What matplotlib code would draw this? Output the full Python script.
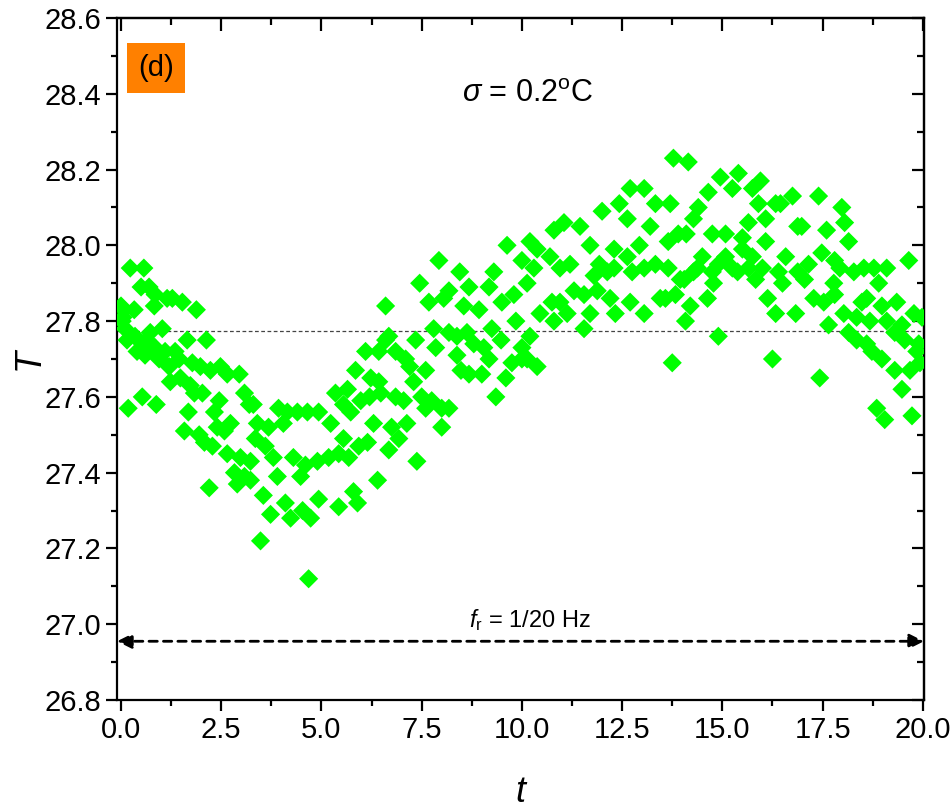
import matplotlib.pyplot as plt
import numpy as np
from matplotlib.ticker import MultipleLocator, FormatStrFormatter

# t (s) and T (degC)
t = [0.23, 0.57, 0.50, 0.70, 0.85, 0.83, 1.15, 1.28, 1.53, 1.88, 0.07, 0.33, 0.03, 0.10,
     0.35, 0.53, 0.60, 0.73, 1.03, 0.85, 1.10, 1.35, 1.45, 1.65, 2.13, 1.78, 1.98, 2.23,
     2.48, 2.65, 2.95, 1.23, 1.48, 1.73, 1.83, 2.03, 2.45, 2.33, 1.68, 3.08, 3.20, 0.18,
     0.53, 0.88, 1.58, 1.95, 2.08, 2.28, 2.40, 2.73, 2.58, 2.65, 2.98, 2.83, 3.08, 2.90,
     2.20, 0.00, 0.05, 0.15, 0.40, 0.65, 0.95, 1.20,
     3.30, 3.93, 4.15, 4.40, 4.65, 4.93, 5.23, 3.40, 3.68, 4.05, 3.35, 3.60, 3.80, 3.23,
     4.30, 4.60, 4.90, 5.18, 5.43, 5.68, 5.93, 6.15, 5.55, 5.73, 6.30, 5.35, 5.65, 5.98,
     5.85, 6.23, 6.43, 6.10, 6.43, 6.60, 6.60, 3.23, 3.90, 4.48, 3.55, 3.73, 4.10, 4.23,
     4.53, 4.73, 4.93, 5.43, 5.80, 5.90, 6.40, 3.48, 4.68, 6.48, 6.20, 5.55,
     7.93, 7.45, 8.45, 9.30, 9.63, 10.00, 7.68, 8.05, 8.18, 8.68, 8.55, 8.93, 9.18, 9.50,
     9.80, 6.68, 7.35, 7.80, 8.18, 8.38, 8.63, 7.85, 8.38, 8.80, 9.05, 9.25, 9.48, 9.85,
     10.00, 6.85, 7.10, 7.60, 8.48, 8.68, 9.00, 9.18, 9.60, 9.75, 10.00, 7.30, 6.85, 7.05,
     7.50, 7.75, 8.00, 8.18, 9.35, 6.75, 7.13, 6.93, 6.68, 8.00, 7.38, 7.20, 7.60,
     12.70, 13.05, 12.43, 12.00, 12.63, 13.33, 11.05, 10.80, 11.45, 13.20, 10.20, 11.70,
     12.30, 12.93, 10.38, 10.70, 11.20, 12.63, 10.30, 10.95, 11.93, 12.30, 13.05, 13.33,
     11.80, 12.13, 12.75, 10.13, 11.30, 11.55, 11.88, 12.20, 12.70, 10.75, 10.95, 13.45,
     10.45, 10.80, 11.13, 11.70, 12.33, 13.05, 10.20, 11.55, 10.38, 10.13,
     13.78, 14.15, 15.40, 14.95, 15.95, 14.65, 15.25, 15.75, 16.75, 13.70, 14.40, 15.90,
     16.33, 16.45, 14.28, 16.08, 15.65, 16.88, 14.75, 15.08, 13.90, 13.65, 15.50, 16.08,
     15.50, 15.75, 14.50, 15.08, 16.58, 14.38, 14.90, 15.25, 15.65, 16.00, 13.65, 14.28,
     14.75, 15.38, 16.40, 16.88, 13.95, 14.78, 15.83, 16.50, 13.83, 14.63, 16.13, 14.20,
     13.58, 14.08, 16.33, 16.83, 14.90, 13.75, 16.25, 14.10, 14.05,
     17.40, 17.98, 18.05, 17.60, 18.15, 16.98, 17.15, 17.48, 17.80, 17.93, 18.28, 18.53,
     18.78, 19.10, 19.65, 17.05, 17.78, 18.90, 17.80, 17.28, 17.53, 18.60, 18.48, 19.35,
     18.98, 18.03, 19.78, 18.35, 18.68, 19.10, 19.48, 17.65, 18.15, 18.35, 18.60, 19.30,
     19.55, 18.73, 18.98, 19.85, 19.30, 19.68, 19.48, 19.93, 17.43, 18.85, 19.05, 19.73,
     19.98, 19.90]

T = [27.94, 27.94, 27.89, 27.89, 27.87, 27.84, 27.86, 27.86, 27.85, 27.83, 27.83, 27.83, 27.80, 27.78,
     27.76, 27.74, 27.71, 27.77, 27.78, 27.73, 27.72, 27.72, 27.70, 27.75, 27.75, 27.69, 27.68, 27.67,
     27.68, 27.66, 27.66, 27.64, 27.65, 27.63, 27.61, 27.61, 27.59, 27.56, 27.56, 27.61, 27.58, 27.57,
     27.60, 27.58, 27.51, 27.50, 27.48, 27.47, 27.52, 27.53, 27.51, 27.45, 27.44, 27.40, 27.39, 27.37,
     27.36, 27.84, 27.81, 27.75, 27.72, 27.75, 27.70, 27.68,
     27.58, 27.57, 27.56, 27.56, 27.56, 27.56, 27.53, 27.53, 27.52, 27.53, 27.49, 27.47, 27.44, 27.43,
     27.44, 27.42, 27.43, 27.44, 27.45, 27.44, 27.47, 27.48, 27.49, 27.56, 27.53, 27.61, 27.62, 27.59,
     27.67, 27.65, 27.64, 27.72, 27.72, 27.75, 27.84, 27.38, 27.39, 27.39, 27.34, 27.29, 27.32, 27.28,
     27.30, 27.28, 27.33, 27.31, 27.35, 27.32, 27.38, 27.22, 27.12, 27.61, 27.60, 27.58,
     27.96, 27.90, 27.93, 27.93, 28.00, 27.96, 27.85, 27.86, 27.88, 27.89, 27.84, 27.83, 27.89, 27.85,
     27.87, 27.76, 27.75, 27.78, 27.77, 27.76, 27.77, 27.73, 27.71, 27.74, 27.73, 27.78, 27.75, 27.80,
     27.73, 27.72, 27.70, 27.67, 27.67, 27.66, 27.66, 27.70, 27.65, 27.69, 27.70, 27.64, 27.60, 27.59,
     27.60, 27.59, 27.57, 27.57, 27.60, 27.52, 27.53, 27.49, 27.46, 27.52, 27.43, 27.68, 27.57,
     28.15, 28.15, 28.11, 28.09, 28.07, 28.11, 28.06, 28.04, 28.05, 28.05, 28.01, 28.00,
     27.99, 28.00, 27.99, 27.97, 27.95, 27.97, 27.94, 27.94, 27.95, 27.94, 27.94, 27.95,
     27.92, 27.93, 27.93, 27.90, 27.88, 27.87, 27.88, 27.86, 27.85, 27.85, 27.85, 27.86,
     27.82, 27.80, 27.82, 27.82, 27.82, 27.82, 27.76, 27.78, 27.68, 27.70,
     28.23, 28.22, 28.19, 28.18, 28.17, 28.14, 28.15, 28.15, 28.13, 28.11, 28.10, 28.11,
     28.11, 28.11, 28.07, 28.07, 28.06, 28.05, 28.03, 28.03, 28.03, 28.01, 28.02, 28.01,
     27.99, 27.97, 27.97, 27.97, 27.97, 27.94, 27.95, 27.94, 27.94, 27.94, 27.94, 27.93,
     27.93, 27.93, 27.93, 27.93, 27.91, 27.90, 27.91, 27.90, 27.87, 27.86, 27.86, 27.84,
     27.86, 27.80, 27.82, 27.82, 27.76, 27.69, 27.70, 28.03, 27.91,
     28.13, 28.10, 28.06, 28.04, 28.01, 28.05, 27.95, 27.98, 27.96, 27.94, 27.93, 27.94,
     27.94, 27.94, 27.96, 27.91, 27.90, 27.90, 27.87, 27.86, 27.85, 27.86, 27.85, 27.85,
     27.84, 27.82, 27.82, 27.81, 27.80, 27.80, 27.79, 27.79, 27.77, 27.75, 27.74, 27.77,
     27.75, 27.72, 27.70, 27.72, 27.67, 27.67, 27.62, 27.69, 27.65, 27.57, 27.54, 27.55,
     27.81, 27.74]

T_mean = 27.775
arrow_level = 26.955

plt.rcParams['font.family'] = ['Liberation Sans Narrow', 'Liberation Sans', 'DejaVu Sans']
plt.rcParams['mathtext.fontset'] = 'custom'
plt.rcParams['mathtext.rm'] = 'Liberation Sans'
plt.rcParams['mathtext.it'] = 'Liberation Sans:italic'

fig = plt.figure(figsize=(9.5, 8.11), dpi=100)
ax = fig.add_axes([117 / 950, 1 - 700 / 811, (924 - 117) / 950, (700 - 18) / 811])

ax.scatter(t, T, marker='D', s=95, c='#00ff00', edgecolors='none', zorder=3)

ax.axhline(T_mean, color='#444444', lw=0.9, ls=(0, (3, 2)), zorder=2)
ax.annotate('', xy=(20.03, arrow_level), xytext=(-0.1, arrow_level),
            arrowprops=dict(arrowstyle='<|-|>', color='k', lw=2,
                            linestyle=(0, (3, 2.2)), mutation_scale=22,
                            shrinkA=0, shrinkB=0))
ax.text(10.2, 27.01, r'$f_{\mathrm{r}}$ = 1/20 Hz', fontsize=17, ha='center', va='center')

ax.text(10.15, 28.4, r'$\sigma$ = 0.2$^{\mathrm{o}}$C', fontsize=22, ha='center', va='center')
ax.text(0.875, 28.468, '(d)', fontsize=21, family='Liberation Sans', ha='center', va='center',
        bbox=dict(boxstyle='square,pad=0.38', fc='#ff8000', ec='none'))

ax.set_xlim(-0.1, 20.03)
ax.set_ylim(26.8, 28.6)
ax.xaxis.set_major_locator(MultipleLocator(2.5))
ax.xaxis.set_minor_locator(MultipleLocator(1.25))
ax.yaxis.set_major_locator(MultipleLocator(0.2))
ax.yaxis.set_minor_locator(MultipleLocator(0.1))
ax.xaxis.set_major_formatter(FormatStrFormatter('%.1f'))
ax.yaxis.set_major_formatter(FormatStrFormatter('%.1f'))

for s in ax.spines.values():
    s.set_linewidth(1.6)
ax.tick_params(which='major', direction='out', length=8, width=1.6, labelsize=21)
ax.tick_params(which='minor', direction='out', length=4, width=1.6)

top = ax.secondary_xaxis('top')
top.xaxis.set_major_locator(MultipleLocator(2.5))
top.xaxis.set_minor_locator(MultipleLocator(1.25))
top.tick_params(which='major', direction='in', length=9, width=1.6, labeltop=False)
top.tick_params(which='minor', direction='in', length=5, width=1.6)
top.spines['top'].set_linewidth(1.6)

right = ax.secondary_yaxis('right')
right.yaxis.set_major_locator(MultipleLocator(0.2))
right.yaxis.set_minor_locator(MultipleLocator(0.1))
right.tick_params(which='major', direction='in', length=9, width=1.6, labelright=False)
right.tick_params(which='minor', direction='in', length=5, width=1.6)
right.spines['right'].set_linewidth(1.6)

ax.set_xlabel('t', fontsize=26, style='italic', family='Liberation Sans', labelpad=22)
ax.set_ylabel('T', fontsize=26, style='italic', family='Liberation Sans', labelpad=-2)

fig.savefig('out.png', dpi=100)
